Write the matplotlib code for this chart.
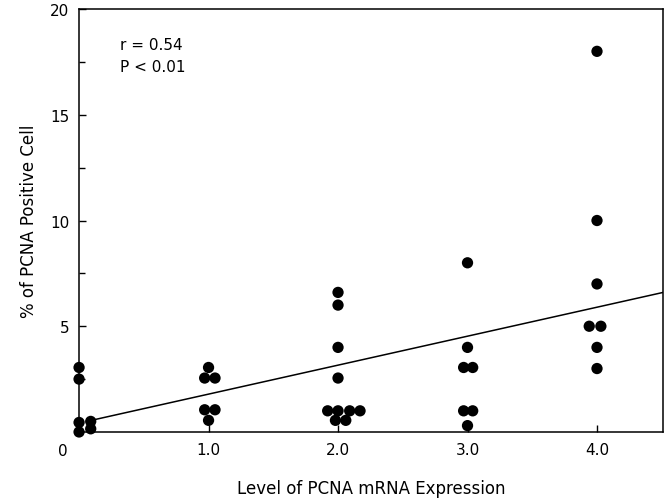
import matplotlib
matplotlib.use("Agg")
from matplotlib import pyplot as plt

plt.rcParams['font.family'] = ['DejaVu Sans']

# values, grouped by expression level (x is jittered as drawn)
level_0_x = [0.0, 0.0, 0.0, 0.0, 0.09, 0.09]
level_0_y = [3.05, 2.5, 0.45, 0.0, 0.5, 0.15]

level_1_x = [1.0, 0.97, 1.05, 0.97, 1.05, 1.0]
level_1_y = [3.05, 2.55, 2.55, 1.05, 1.05, 0.55]

level_2_x = [2.0, 2.0, 2.0, 2.0, 1.92, 2.0, 2.09, 2.17, 1.98, 2.06]
level_2_y = [6.6, 6.0, 4.0, 2.55, 1.0, 1.0, 1.0, 1.0, 0.55, 0.55]

level_3_x = [3.0, 3.0, 2.97, 3.04, 2.97, 3.04, 3.0]
level_3_y = [8.0, 4.0, 3.05, 3.05, 1.0, 1.0, 0.3]

level_4_x = [4.0, 4.0, 4.0, 3.94, 4.03, 4.0, 4.0]
level_4_y = [18.0, 10.0, 7.0, 5.0, 5.0, 4.0, 3.0]

# regression line
fit_slope = 1.37
fit_intercept = 0.42
fit_range = [0.09, 4.51]

x_ticks = [1, 2, 3, 4]
x_tick_labels = ["1.0", "2.0", "3.0", "4.0"]
y_ticks = [5, 10, 15, 20]


def main():
  fig = plt.figure(figsize=(6.7, 5.02), dpi=100)
  ax = fig.add_axes([0.118, 0.1375, 0.8716, 0.8425])

  xs = level_0_x + level_1_x + level_2_x + level_3_x + level_4_x
  ys = level_0_y + level_1_y + level_2_y + level_3_y + level_4_y
  ax.scatter(xs, ys, s=66, c='black', edgecolors='none', zorder=3, clip_on=False)

  fx = fit_range
  fy = [fit_intercept + fit_slope * v for v in fx]
  ax.plot(fx, fy, color='black', lw=1.1, zorder=2)

  ax.set_xlim(0, 4.51)
  ax.set_ylim(0, 20)

  ax.set_xticks(x_ticks)
  ax.set_xticklabels(x_tick_labels)
  ax.set_yticks(y_ticks)
  ax.set_yticks([2.5, 7.5, 12.5, 17.5], minor=True)
  ax.tick_params(axis='both', which='both', direction='in', labelsize=11)
  ax.tick_params(axis='x', length=5, width=1, pad=7)
  ax.tick_params(axis='y', which='major', length=5, width=1, pad=7)
  ax.tick_params(axis='y', which='minor', length=4, width=1)

  for sp in ax.spines.values():
    sp.set_linewidth(1.1)

  fig.text(63 / 670, 1 - 452 / 502, "0", ha='center', va='center', fontsize=11)

  ax.set_xlabel("Level of PCNA mRNA Expression", fontsize=12, labelpad=16)
  ax.set_ylabel("% of PCNA Positive Cell", fontsize=12, labelpad=9)

  ax.text(0.07, 0.915, "r = 0.54", transform=ax.transAxes, fontsize=11, va='center')
  ax.text(0.07, 0.863, "P < 0.01", transform=ax.transAxes, fontsize=11, va='center')

  fig.savefig("out.png", dpi=100)


if __name__ == "__main__":
  main()
